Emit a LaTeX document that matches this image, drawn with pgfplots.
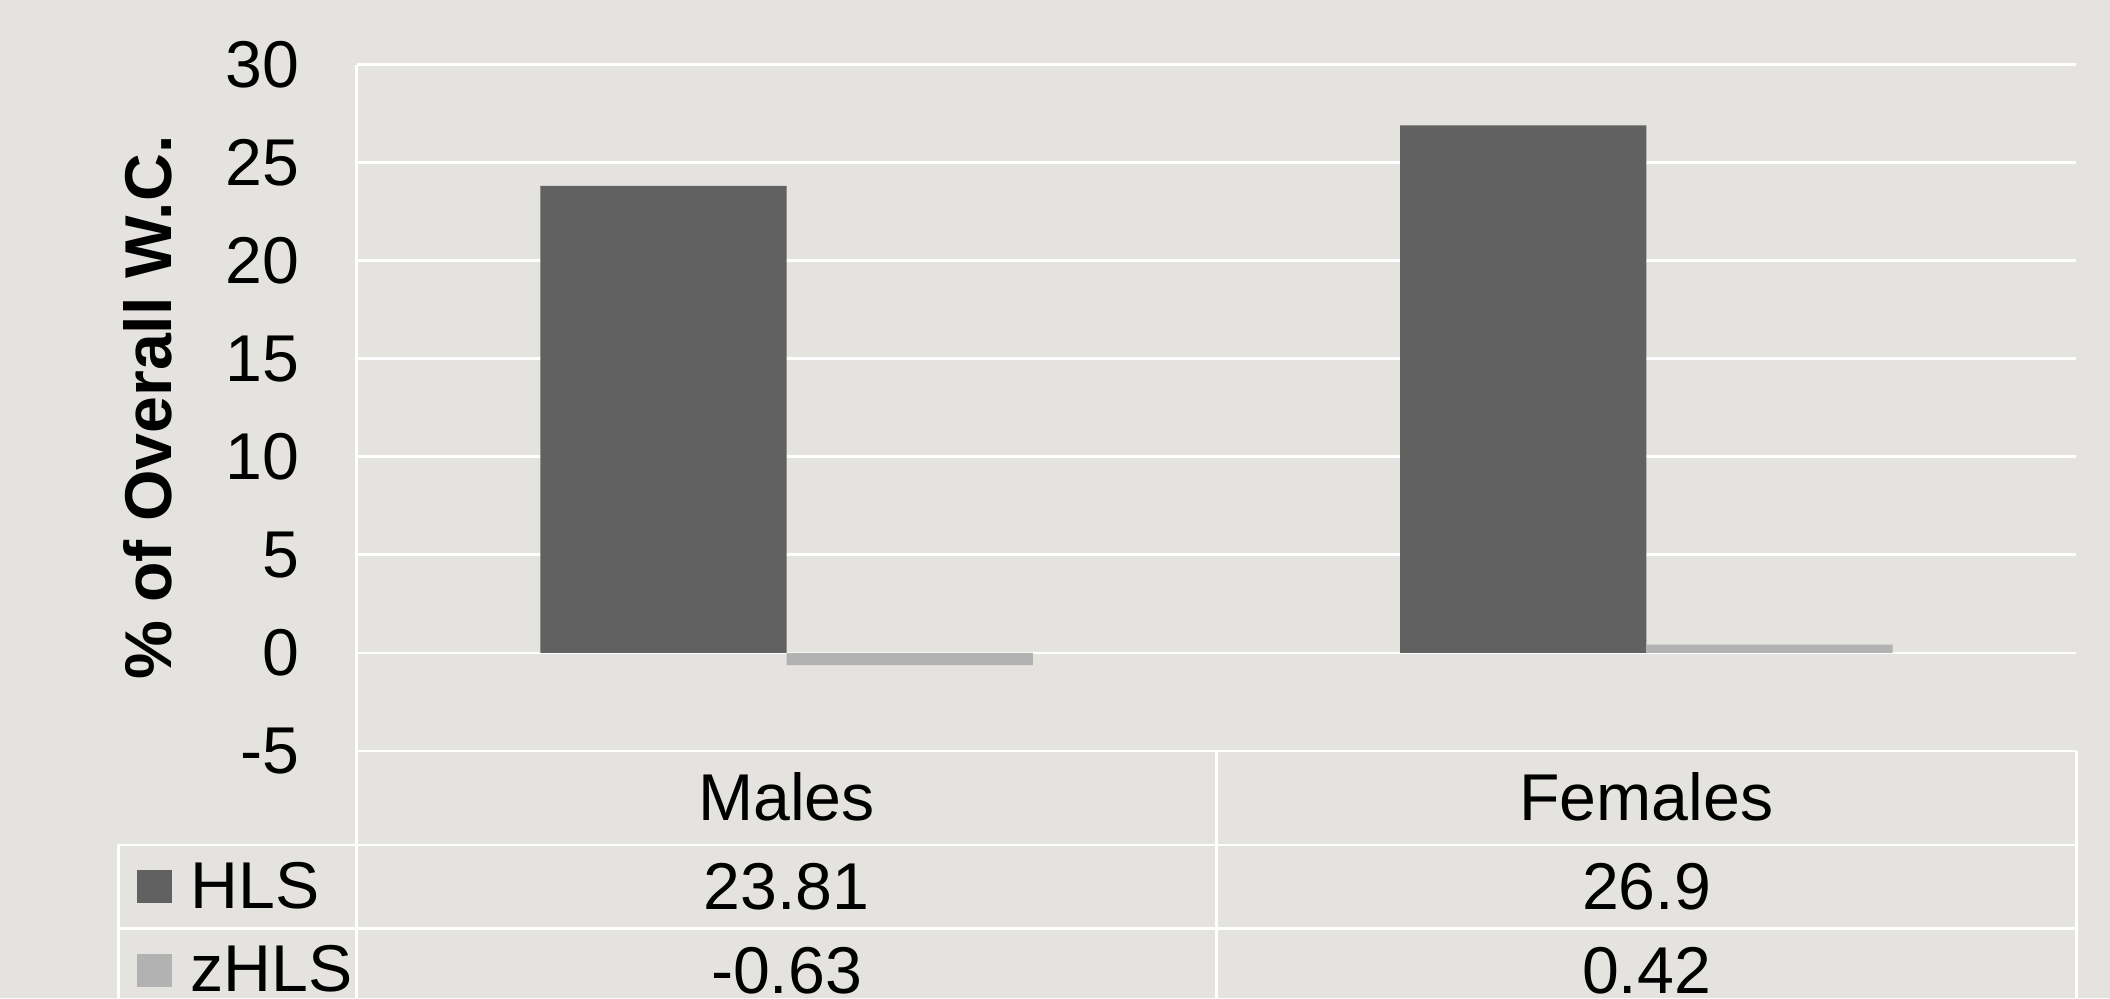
\documentclass[border=0pt]{standalone}
\usepackage{fontspec}
\setmainfont{Liberation Sans}
\usepackage{pgfplots}
\pgfplotsset{compat=1.18}
\definecolor{bg}{HTML}{E4E3DF}
\definecolor{hls}{HTML}{616161}
\definecolor{zhls}{HTML}{B2B2B2}
\begin{document}
\begin{tikzpicture}[x=1cm,y=1cm]
\useasboundingbox (0,0) rectangle (15.68,7.42);
\clip (0,0) rectangle (15.68,7.42);
\fill[bg] (0,0) rectangle (15.68,7.42);
\begin{axis}[
  at={(2.65cm,1.84cm)}, anchor=south west,
  scale only axis, width=12.78cm, height=5.10cm,
  xmin=-0.5, xmax=1.5, ymin=-5, ymax=30,
  ytick={-5,0,...,30},
  xtick=\empty,
  ybar=0pt, bar width=1.83cm,
  axis line style={draw=none},
  ymajorgrids, grid style={white, line width=0.55pt},
  major tick length=0pt,
  /pgf/number format/assume math mode=true,
  yticklabel style={font=\fontsize{14}{16}\selectfont, anchor=east, inner sep=0pt, xshift=-0.42cm},
  ylabel={\% of Overall W.C.},
  ylabel style={font=\bfseries\fontsize{14}{16}\selectfont, at={(axis description cs:-0.1213,0.5)}, anchor=center},
  clip=false,
]
\addplot[fill=hls, draw=none] coordinates {(0,23.81) (1,26.9)};
\addplot[fill=zhls, draw=none] coordinates {(0,-0.63) (1,0.42)};
\end{axis}
\begin{scope}[white, line width=0.55pt]
\draw (0.88,1.14) -- (15.43,1.14);
\draw (0.88,0.52) -- (15.43,0.52);
\draw (0.88,1.14) -- (0.88,0);
\draw (2.65,6.94) -- (2.65,0);
\draw (9.04,1.84) -- (9.04,0);
\draw (15.43,1.84) -- (15.43,0);
\end{scope}
\begin{scope}[font=\fontsize{14}{16}\selectfont, inner sep=0pt]
\node[anchor=base] at (5.845,1.32) {Males};
\node[anchor=base] at (12.235,1.32) {Females};
\node[anchor=base] at (5.845,0.66) {23.81};
\node[anchor=base] at (12.235,0.66) {26.9};
\node[anchor=base] at (5.845,0.04) {-0.63};
\node[anchor=base] at (12.235,0.04) {0.42};
\node[anchor=base west] at (1.41,0.665) {HLS};
\node[anchor=base west] at (1.41,0.055) {zHLS};
\end{scope}
\fill[hls] (1.02,0.71) rectangle (1.28,0.955);
\fill[zhls] (1.02,0.085) rectangle (1.28,0.33);
\end{tikzpicture}
\end{document}
